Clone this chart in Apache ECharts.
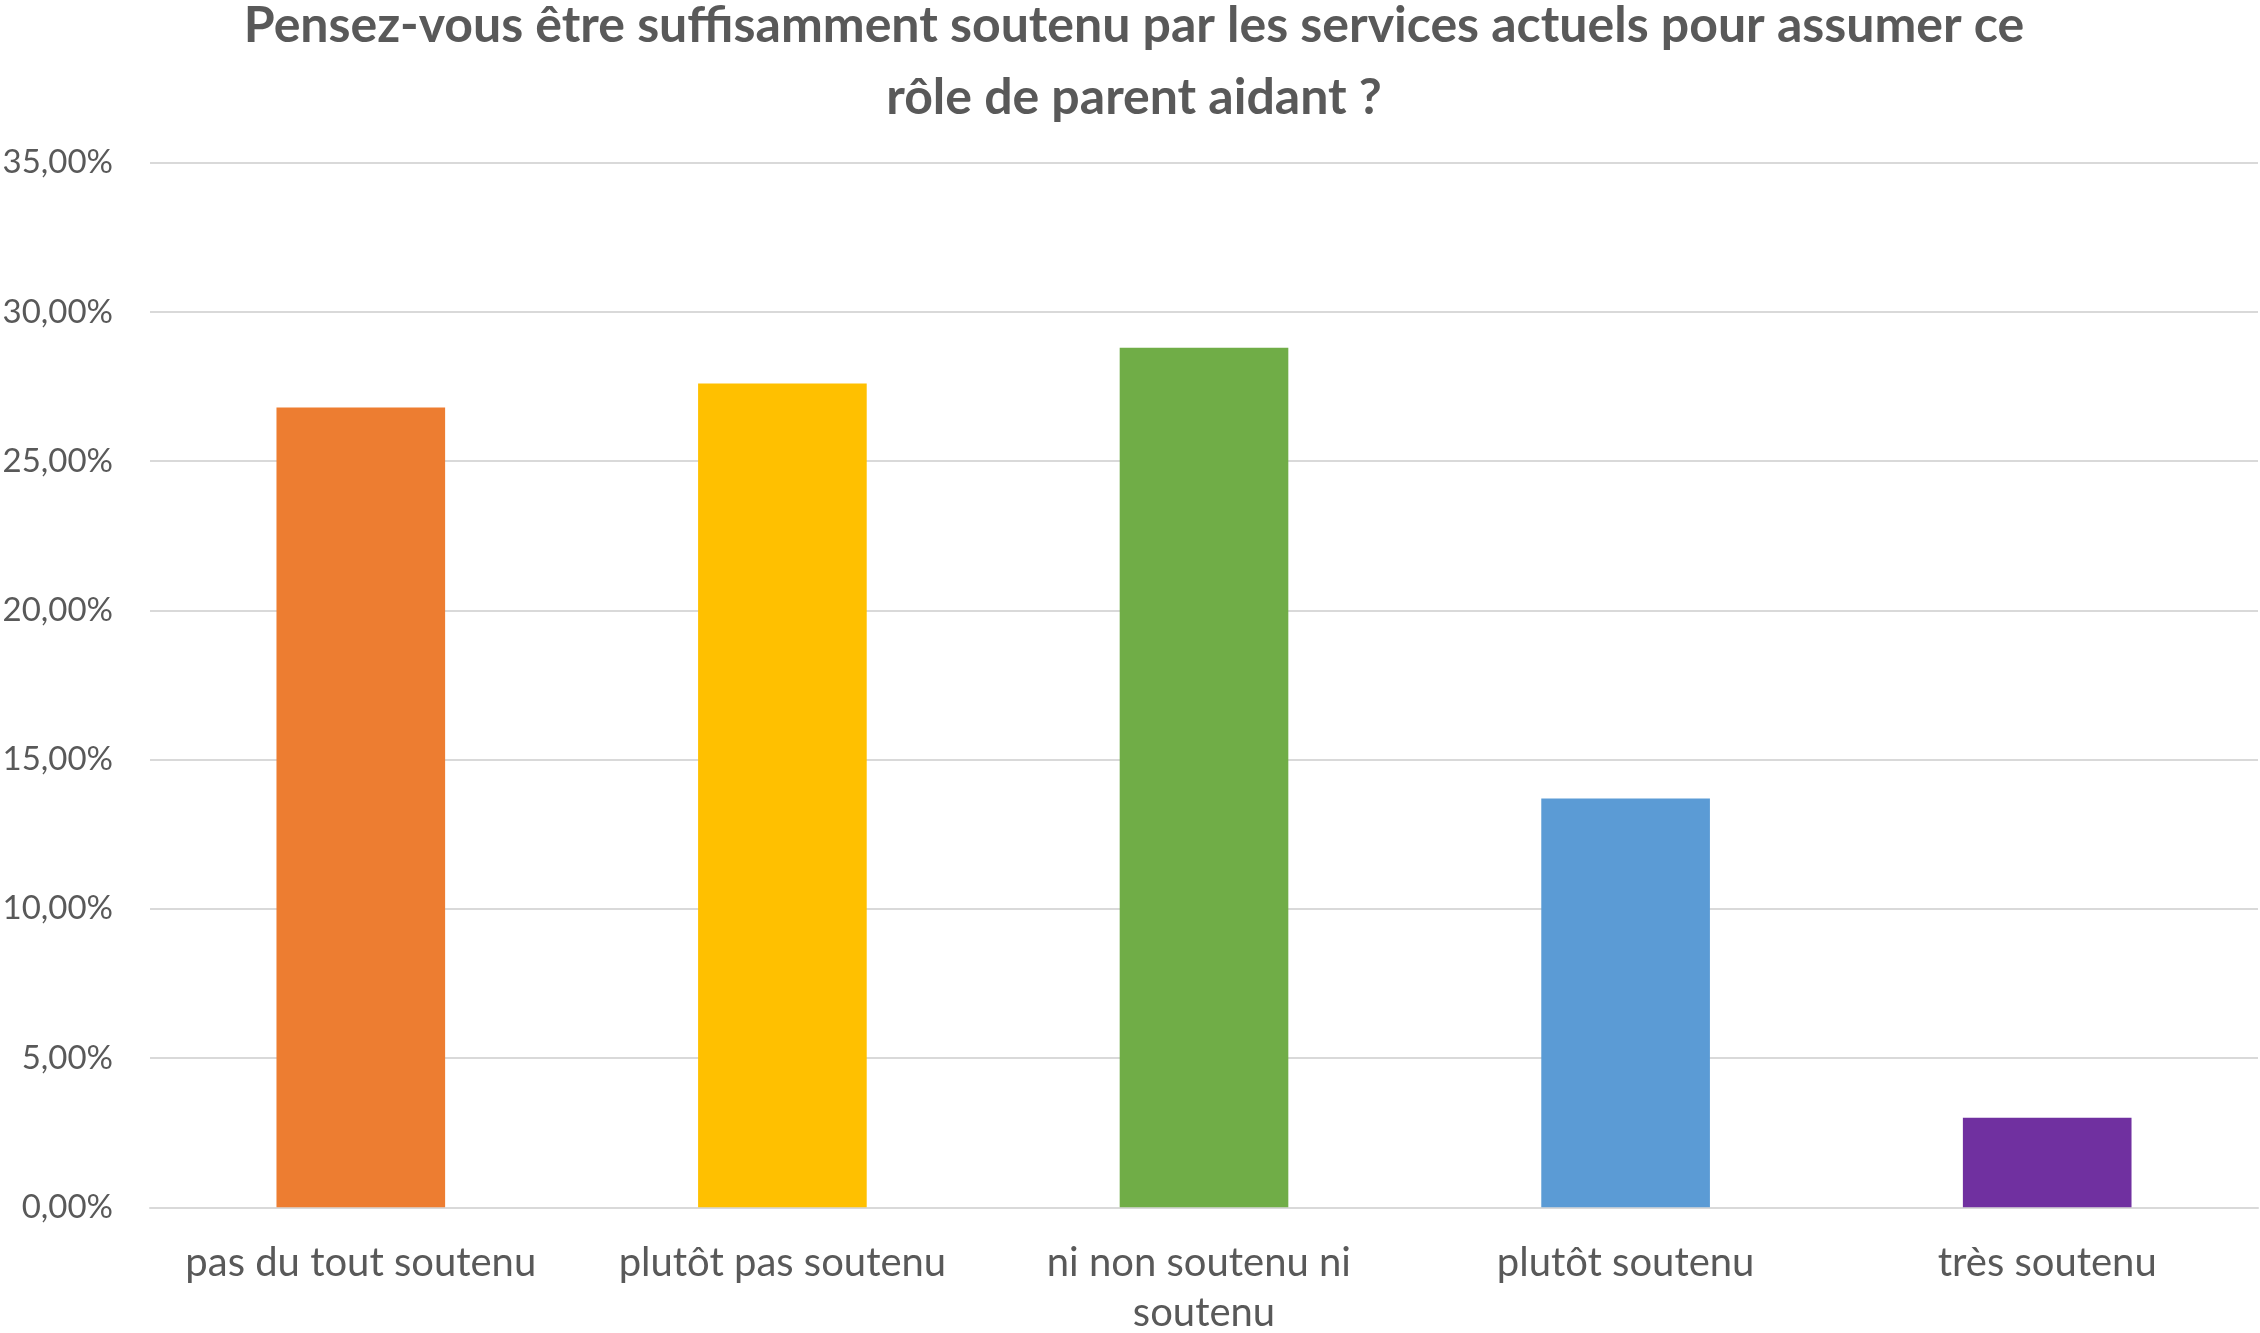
<!DOCTYPE html>
<html>
<head>
<meta charset="utf-8">
<script src="https://cdn.jsdelivr.net/npm/echarts@6/dist/echarts.min.js"></script>
<style>
  html, body { margin: 0; padding: 0; background: #ffffff; }
  #chart { width: 2260px; height: 1333px; }
</style>
</head>
<body>
<div id="chart"></div>
<script>
// Survey answers and their share of respondents (in %)
const categories = [
  'pas du tout soutenu',
  'plutôt pas soutenu',
  'ni non soutenu ni soutenu',
  'plutôt soutenu',
  'très soutenu'
];
const shares = [26.8, 27.6, 28.8, 13.7, 3.0];
const barColors = ['#ED7D31', '#FFC000', '#70AD47', '#5B9BD5', '#7030A0'];

// Value axis: 0 % to 35 %, one tick every 5 %
const axisMin = 0;
const axisMax = 35;
const axisStep = 5;

const titleText = 'Pensez-vous être suffisamment soutenu par les services actuels pour assumer ce\nrôle de parent aidant ?';

const chart = echarts.init(document.getElementById('chart'), null, { renderer: 'canvas' });

chart.setOption({
  backgroundColor: '#ffffff',
  animation: false,
  title: {
    text: titleText,
    left: 1134,
    textAlign: 'center',
    top: -10,
    padding: 0,
    textStyle: {
      fontFamily: 'Lato',
      fontWeight: 'bold',
      fontSize: 50,
      lineHeight: 72,
      color: '#595959'
    }
  },
  grid: {
    left: 150,
    right: 2,
    top: 162.7,
    bottom: 125.7,
    containLabel: false,
    outerBoundsMode: 'none'
  },
  xAxis: {
    type: 'category',
    data: categories,
    axisLine: { show: true, lineStyle: { color: '#d9d9d9', width: 2 } },
    axisTick: { show: false },
    axisLabel: {
      interval: 0,
      margin: 31,
      width: 400,
      overflow: 'break',
      fontFamily: 'Lato',
      fontSize: 40,
      lineHeight: 50,
      color: '#595959'
    }
  },
  yAxis: {
    type: 'value',
    min: axisMin,
    max: axisMax,
    interval: axisStep,
    axisLine: { show: false },
    axisTick: { show: false },
    splitLine: { lineStyle: { color: '#d9d9d9', width: 2 } },
    axisLabel: {
      margin: 37,
      fontFamily: 'Lato',
      fontSize: 33,
      color: '#595959',
      formatter: v => v.toFixed(2).replace('.', ',') + '%'
    }
  },
  series: [{
    type: 'bar',
    barWidth: '40%',
    data: shares.map((v, i) => ({ value: v, itemStyle: { color: barColors[i] } }))
  }]
});
</script>
</body>
</html>
